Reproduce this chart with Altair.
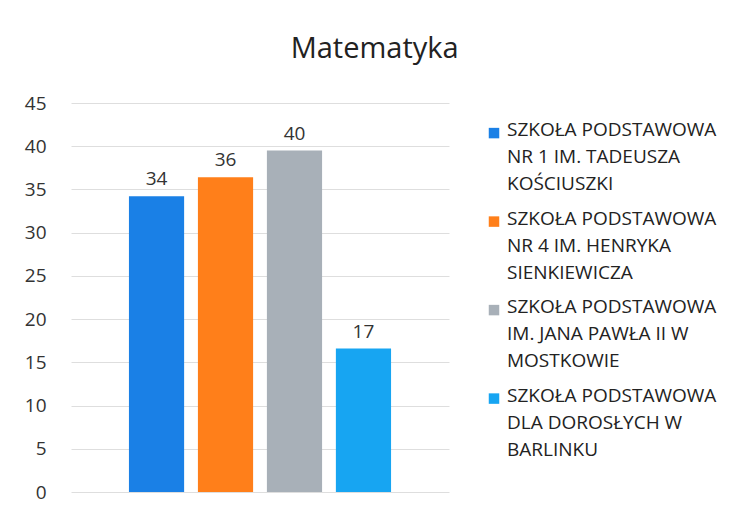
import altair as alt
import pandas as pd

schools = [
    "SZKOŁA PODSTAWOWA|NR 1 IM. TADEUSZA|KOŚCIUSZKI",
    "SZKOŁA PODSTAWOWA|NR 4 IM. HENRYKA|SIENKIEWICZA",
    "SZKOŁA PODSTAWOWA|IM. JANA PAWŁA II W|MOSTKOWIE",
    "SZKOŁA PODSTAWOWA|DLA DOROSŁYCH W|BARLINKU",
]
values = [34.2, 36.4, 39.5, 16.6]
labels = ["34", "36", "40", "17"]
colors = ["#1a80e6", "#ff7f1a", "#a8b0b8", "#17a5f2"]

df = pd.DataFrame({"school": schools, "value": values, "label": labels})

FONT = "Open Sans"
color = alt.Color("school:N", sort=schools,
                  scale=alt.Scale(domain=schools, range=colors), legend=None)

x = alt.X("school:N", sort=schools, axis=None,
          scale=alt.Scale(paddingInner=0.2, paddingOuter=0.84))
y = alt.Y("value:Q", scale=alt.Scale(domain=[0, 45]),
          axis=alt.Axis(values=list(range(0, 50, 5)), title=None, domain=False, ticks=False,
                        labelFontSize=19, labelColor="#333333", labelFont=FONT,
                        labelPadding=25, gridColor="#dedede", gridWidth=1))

bars = alt.Chart(df).mark_bar().encode(x=x, y=y, color=color)
text = alt.Chart(df).mark_text(dy=-17, fontSize=19, font=FONT, color="#333333").encode(
    x=x, y="value:Q", text="label:N"
)
main = (bars + text).properties(width=378, height=389)

# legend panel
ly = alt.Y("school:N", sort=schools, axis=None,
           scale=alt.Scale(type="point", padding=0.5, align=0.34))
leg_sq = alt.Chart(df).mark_square(size=110, opacity=1).encode(
    x=alt.value(5), y=ly, color=color
)
leg_tx = alt.Chart(df).transform_calculate(
    lines="split(datum.school, '|')"
).mark_text(align="left", baseline="top", dy=-12, fontSize=19, font=FONT,
            color="#222222", lineHeight=27).encode(
    x=alt.value(18), y=ly, text="lines:N"
)
legend = (leg_sq + leg_tx).properties(width=230, height=354)

chart = alt.hconcat(main, legend, spacing=39).properties(
    padding={"left": 24, "top": 35, "right": 10, "bottom": 29},
    title=alt.TitleParams("Matematyka", fontSize=29, font=FONT, fontWeight="normal",
                          color="#222222", anchor="middle", offset=30, dx=3),
).configure(background="white").configure_view(strokeWidth=0, stroke="transparent")

chart.save("out.html", embed_options={"renderer": "svg", "actions": False})
